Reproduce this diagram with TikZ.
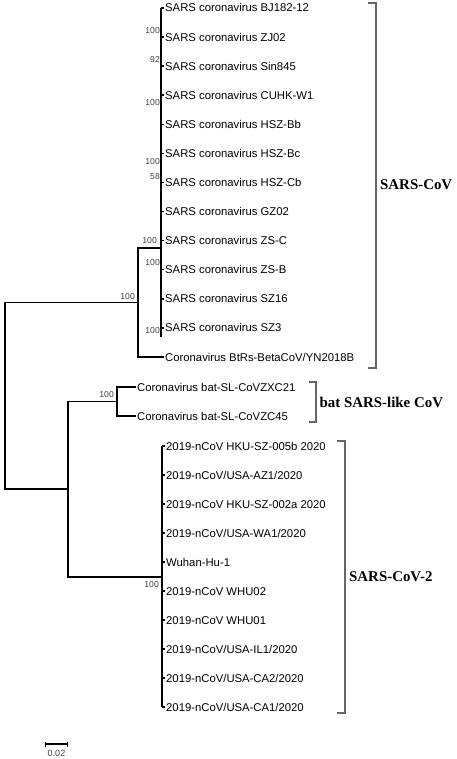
\documentclass[tikz,border=0pt]{standalone}
\usepackage{fontspec}
\setmainfont{Liberation Sans}
\newfontfamily\cladefont{Liberation Serif}
\usetikzlibrary{arrows.meta, positioning, calc}

\begin{document}
\begin{tikzpicture}[
    x=1pt, y=-1pt,
    taxon/.style={anchor=west, inner sep=1.5pt, font=\fontsize{11.3}{13}\selectfont, text height=8pt, text depth=0pt},
    boot/.style={anchor=east, inner sep=0.5pt, font=\fontsize{8.6}{9}\selectfont, text=black!75},
    branch/.style={line width=1.5pt, black},
    bracket/.style={line width=1.1pt, black!60},
    clade/.style={anchor=west, inner sep=0pt, font=\cladefont\bfseries\fontsize{14.9}{16}\selectfont}
]
\useasboundingbox[fill=white] (0,0) rectangle (456,759);

\node[taxon] (bj) at (163.5, 8) {SARS coronavirus BJ182-12};
\node[taxon] (zj) at (163.5, 37.1) {SARS coronavirus ZJ02};
\node[taxon] (sin) at (163.5, 66.2) {SARS coronavirus Sin845};
\node[taxon] (cuhk) at (163.5, 95.2) {SARS coronavirus CUHK-W1};
\node[taxon] (hszbb) at (163.5, 124.3) {SARS coronavirus HSZ-Bb};
\node[taxon] (hszbc) at (163.5, 153.4) {SARS coronavirus HSZ-Bc};
\node[taxon] (hszcb) at (163.5, 182.5) {SARS coronavirus HSZ-Cb};
\node[taxon] (gz) at (163.5, 211.6) {SARS coronavirus GZ02};
\node[taxon] (zsc) at (163.5, 240.6) {SARS coronavirus ZS-C};
\node[taxon] (zsb) at (163.5, 269.7) {SARS coronavirus ZS-B};
\node[taxon] (szsixteen) at (163.5, 298.8) {SARS coronavirus SZ16};
\node[taxon] (szthree) at (163.5, 327.9) {SARS coronavirus SZ3};
\node[taxon] (btrs) at (163.5, 357) {Coronavirus BtRs-BetaCoV/YN2018B};

\node[taxon] (zxc) at (135.5, 387) {Coronavirus bat-SL-CoVZXC21};
\node[taxon] (zc) at (135.5, 416) {Coronavirus bat-SL-CoVZC45};

\node[taxon] (hkub) at (164.5, 446) {2019-nCoV HKU-SZ-005b 2020};
\node[taxon] (az) at (164.5, 475) {2019-nCoV/USA-AZ1/2020};
\node[taxon] (hkua) at (164.5, 504) {2019-nCoV HKU-SZ-002a 2020};
\node[taxon] (wa) at (164.5, 533) {2019-nCoV/USA-WA1/2020};
\node[taxon] (wuhan) at (164.5, 562) {Wuhan-Hu-1};
\node[taxon] (whutwo) at (164.5, 591) {2019-nCoV WHU02};
\node[taxon] (whuone) at (164.5, 620) {2019-nCoV WHU01};
\node[taxon] (il) at (164.5, 649) {2019-nCoV/USA-IL1/2020};
\node[taxon] (catwo) at (164.5, 678) {2019-nCoV/USA-CA2/2020};
\node[taxon] (caone) at (164.5, 707) {2019-nCoV/USA-CA1/2020};

\coordinate (sars) at (161, 248);
\coordinate (beta) at (138, 302.5);
\coordinate (bat) at (117, 401.5);
\coordinate (cov) at (162, 577);
\coordinate (lower) at (68, 489);
\coordinate (root) at (5, 396);

\draw[branch] (beta) -| (root) |- (lower);
\draw[branch] (bat) -| (lower) |- (cov);
\draw[branch] (sars) -| (beta) |- (btrs.west);
\draw[branch] (zxc.west) -| (bat) |- (zc.west);
\draw[branch] (sars |- bj.west) -- (sars |- szthree.west) -- ++(0,9);
\draw[branch] (cov |- hkub.west) -- (cov |- caone.west);
\foreach \leaf in {bj, zj, sin, cuhk, hszbb, hszbc, hszcb, gz, zsc, zsb, szsixteen, szthree}
    \draw[branch] (sars |- \leaf.west) -- (\leaf.west);
\foreach \leaf in {hkub, az, hkua, wa, wuhan, whutwo, whuone, il, catwo, caone}
    \draw[branch] (cov |- \leaf.west) -- (\leaf.west);

\node[boot] at (160.5, 31) {100};
\node[boot] at (160.5, 60) {92};
\node[boot] at (160.5, 103) {100};
\node[boot] at (160.5, 162) {100};
\node[boot] at (160.5, 177) {58};
\node[boot] at (157.5, 241) {100};
\node[boot] at (160.5, 263) {100};
\node[boot] at (160.5, 331) {100};
\node[boot] at (135.5, 297) {100};
\node[boot] at (114.5, 395) {100};
\node[boot] at (159.5, 585) {100};

\draw[bracket] (368, 3) -- (376, 3) -- (376, 368) -- (368, 368);
\node[clade] (sarscov) at (380, 185) {SARS-CoV};
\draw[bracket] (309, 382) -- (316, 382) -- (316, 422) -- (309, 422);
\node[clade] (batlike) at (319.5, 402) {bat SARS-like CoV};
\draw[bracket] (337, 441) -- (345, 441) -- (345, 713) -- (337, 713);
\node[clade] (sarscovtwo) at (349, 577) {SARS-CoV-2};

\coordinate (scaleL) at (45, 744);
\coordinate (scaleR) at (68, 744);
\draw[line width=1.2pt, {Bar[width=5pt]}-{Bar[width=5pt]}] (scaleL) -- (scaleR);
\node[font=\fontsize{9}{9}\selectfont, text=black!75, inner sep=0pt] (scalelabel) at (56.5, 753) {0.02};
\end{tikzpicture}
\end{document}
